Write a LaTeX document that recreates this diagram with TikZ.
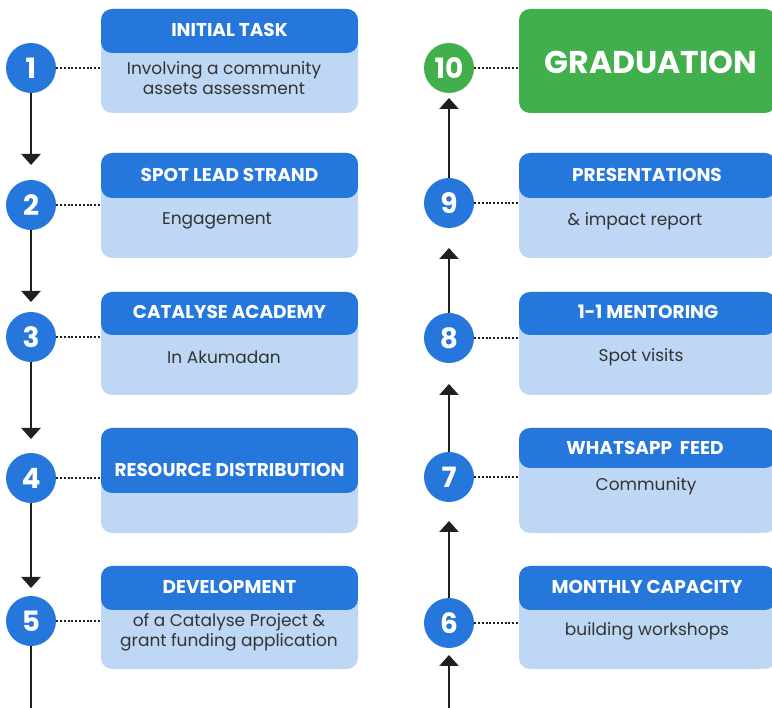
\documentclass[tikz,border=0pt]{standalone}
\usepackage{fontspec}
\setmainfont{Poppins}
\usetikzlibrary{arrows.meta}
\definecolor{hdr}{RGB}{37,119,219}
\definecolor{lightb}{RGB}{190,215,244}
\definecolor{grn}{RGB}{65,175,76}
\definecolor{ink}{RGB}{35,31,32}
\definecolor{txt}{RGB}{51,51,51}
\begin{document}
\begin{tikzpicture}[x=1pt,y=-1pt,
  box/.style n args={2}{fill=lightb, rounded corners=11pt, minimum width=257pt,
    minimum height=#1pt, inner sep=0pt,
    path picture={\fill[hdr] (path picture bounding box.north west) rectangle
      ([yshift=-#2pt]path picture bounding box.north east);}},
  gbox/.style={fill=grn, rounded corners=11pt, minimum width=257pt, minimum height=104pt, inner sep=0pt},
  num/.style={circle, fill=hdr, minimum size=50pt, inner sep=0pt, text=white, font=\bfseries\fontsize{28}{28}\selectfont},
  gnum/.style={num, fill=grn},
  head/.style={text=white, font=\bfseries\fontsize{18.5}{18.5}\selectfont, inner sep=0pt},
  body/.style={text=txt, font=\fontsize{17}{20}\selectfont, align=center, inner sep=0pt},
  dots/.style={ink, line width=2.2pt, dash pattern=on 2pt off 1.8pt},
  link/.style={ink, line width=2.4pt, -{Triangle[width=19pt,length=11pt]}},
  plain/.style={ink, line width=2.4pt}]
\useasboundingbox (0,0) rectangle (772,708);
\begin{scope}
\clip (0,0) rectangle (772,708);
% left column boxes
\node[box={104}{44}] (b1) at (229.5,61) {};
\node[box={105}{45}] (b2) at (229.5,205.5) {};
\node[box={103}{43}] (b3) at (229.5,343.5) {};
\node[box={105}{65}] (b4) at (229.5,480.5) {};
\node[box={103}{44}] (b5) at (229.5,617.5) {};
% right column boxes
\node[gbox] (b10) at (647.5,61) {};
\node[box={105}{45}] (b9) at (647.5,205.5) {};
\node[box={103}{43}] (b8) at (647.5,343.5) {};
\node[box={105}{40}] (b7) at (647.5,480.5) {};
\node[box={103}{44}] (b6) at (647.5,617.5) {};
\end{scope}
% header texts
\node[head] (h1) at (229.5,30) {INITIAL TASK};
\node[head] (h2) at (229.5,175) {SPOT LEAD STRAND};
\node[head] (h3) at (229.5,312) {CATALYSE ACADEMY};
\node[head] (h4) at (229.5,470) {RESOURCE DISTRIBUTION};
\node[head] (h5) at (229.5,587) {DEVELOPMENT};
\node[text=white, font=\bfseries\fontsize{31.5}{31.5}\selectfont, inner sep=0pt] (h10) at (651,62) {GRADUATION};
\node[head] (h9) at (647,175) {PRESENTATIONS};
\node[head] (h8) at (648,312) {1-1 MENTORING};
\node[head] (h7) at (645,448) {WHATSAPP\ \ FEED};
\node[head] (h6) at (647,587) {MONTHLY CAPACITY};
% body texts
\node[body] (t1) at (224,78) {Involving a community\\assets assessment};
\node[body] (t2) at (217,221) {Engagement};
\node[body] (t3) at (224,357) {In Akumadan};
\node[body] (t5) at (229,632) {of a Catalyse Project \&\\grant funding application};
\node[body] (t9) at (635,221) {\& impact report};
\node[body] (t8) at (641,357) {Spot visits};
\node[body] (t7) at (646,486) {Community};
\node[body] (t6) at (647,631) {building workshops};
% circles
\node[num] (c1) at (31,68) {1};
\node[num] (c2) at (31,205) {2};
\node[num] (c3) at (31,337) {3};
\node[num] (c4) at (31,478) {4};
\node[num] (c5) at (31,621) {5};
\node[gnum] (c10) at (449,68) {10};
\node[num] (c9) at (449,203) {9};
\node[num] (c8) at (449,338) {8};
\node[num] (c7) at (449,477) {7};
\node[num] (c6) at (449,623) {6};
% dotted connectors
\foreach \i in {1,...,10} \draw[dots] (c\i.east) -- (c\i.east -| b\i.west);
% arrow coordinates
\coordinate (a2) at (31,165);
\coordinate (a3) at (31,302);
\coordinate (a4) at (31,439);
\coordinate (a5) at (31,588);
\coordinate (e5) at (31,710);
\coordinate (s6) at (449,710);
\coordinate (a6) at (449,655);
\coordinate (a7) at (449,521);
\coordinate (a8) at (449,384);
\coordinate (a9) at (449,248);
\coordinate (a10) at (449,98);
\draw[link] (c1.south) -- (a2);
\draw[link] (c2.south) -- (a3);
\draw[link] (c3.south) -- (a4);
\draw[link] (c4.south) -- (a5);
\draw[plain] (c5.south) -- (e5);
\draw[link] (s6) -- (a6);
\draw[link] (c6.north) -- (a7);
\draw[link] (c7.north) -- (a8);
\draw[link] (c8.north) -- (a9);
\draw[link] (c9.north) -- (a10);
\end{tikzpicture}
\end{document}
